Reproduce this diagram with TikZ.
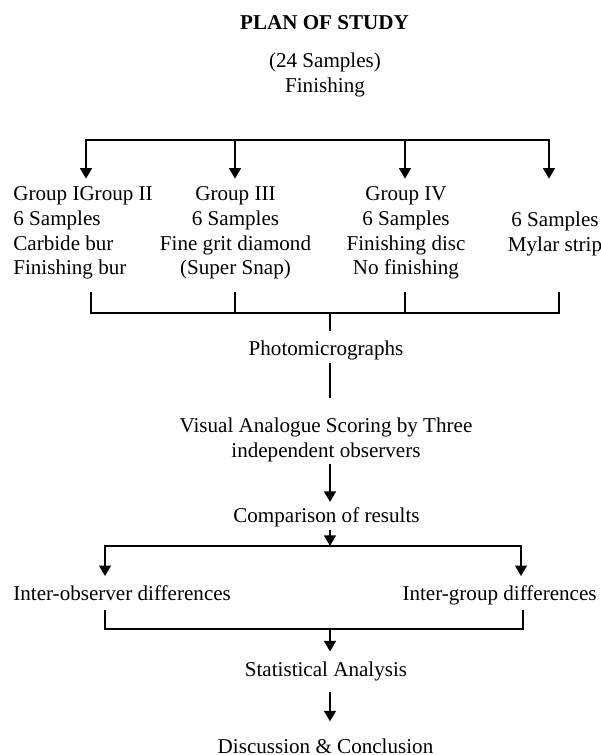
\documentclass[tikz,border=0pt]{standalone}
\usepackage{fontspec}
\setmainfont{Liberation Serif}
\usetikzlibrary{arrows.meta}

\begin{document}
\begin{tikzpicture}[txt/.style={inner sep=0pt,align=center,font=\fontsize{12}{14}\selectfont},
                    ln/.style={line width=0.9pt},
                    arr/.style={line width=1.6pt,-{Triangle[width=6.5pt,length=6pt]}}]
    \useasboundingbox (0,0) rectangle (12,-15.1);
    \node[txt,anchor=base,font=\fontsize{12}{14}\selectfont\bfseries] (title) at (6.49,-0.6) {PLAN OF STUDY};
    \node[txt,anchor=north] (sub) at (6.5,-1.05) {(24 Samples)\\Finishing};

    \coordinate (f1) at (1.72,-2.8);
    \coordinate (f2) at (4.7,-2.8);
    \coordinate (f3) at (8.1,-2.8);
    \coordinate (f4) at (10.98,-2.8);
    \draw[line width=1.6pt,line cap=rect] (f1)--(f4);

    \node[txt,align=left,anchor=north west] (g1) at (0.26,-3.73) {Group IGroup II\\6 Samples\\Carbide bur\\Finishing bur};
    \node[txt,anchor=north] (g2) at (4.71,-3.73) {Group III\\6 Samples\\Fine grit diamond\\(Super Snap)};
    \node[txt,anchor=north] (g3) at (8.12,-3.73) {Group IV\\6 Samples\\Finishing disc\\No finishing};
    \node[txt,anchor=north] (g4) at (11.1,-4.23) {6 Samples\\Mylar strip};
    \foreach \f in {f1,f2,f3,f4}
        \draw[arr,shorten >=4.4pt] (\f)--(\f |- g1.north);

    \coordinate (j1) at (1.82,-6.26);
    \coordinate (j2) at (4.7,-6.26);
    \coordinate (j3) at (8.1,-6.26);
    \coordinate (j4) at (11.18,-6.26);
    \coordinate (mid) at (6.6,-6.26);
    \draw[ln,shorten <=7pt,shorten >=7pt] (j1 |- g1.south)--(j1)--(j4)--(j4 |- g1.south);
    \draw[ln,shorten <=7pt] (j2 |- g2.south)--(j2);
    \draw[ln,shorten <=7pt] (j3 |- g3.south)--(j3);

    \node[txt,anchor=base] (photo) at (6.52,-7.1) {Photomicrographs};
    \draw[ln,shorten >=5.4pt] (mid)--(photo.north -| mid);

    \node[txt,anchor=north] (visual) at (6.52,-8.35) {Visual Analogue Scoring by Three\\independent observers};
    \draw[ln,shorten <=1.9pt,shorten >=11pt] (photo.south -| mid)--(visual.north -| mid);

    \node[txt,anchor=base] (comp) at (6.53,-10.45) {Comparison of results};
    \draw[arr,shorten <=1pt,shorten >=3pt] (visual.south -| mid)--(comp.north -| mid);

    \coordinate (k) at (6.6,-10.92);
    \coordinate (k1) at (2.1,-10.92);
    \coordinate (k2) at (10.42,-10.92);
    \draw[arr,shorten <=1.5pt] (comp.south -| mid)--(k);
    \draw[line width=1.6pt,line cap=rect] (k1)--(k2);

    \node[txt,anchor=base west] (obs) at (0.26,-12.01) {Inter-observer differences};
    \node[txt,anchor=base east] (grp) at (11.94,-12.01) {Inter-group differences};
    \draw[arr,shorten >=5.2pt] (k1)--(k1 |- obs.north);
    \draw[arr,shorten >=5.2pt] (k2)--(k2 |- grp.north);

    \coordinate (m1) at (2.1,-12.58);
    \coordinate (m2) at (10.46,-12.58);
    \coordinate (m) at (6.6,-12.58);
    \draw[ln,shorten <=5.3pt,shorten >=2.7pt] (m1 |- obs.south)--(m1)--(m2)--(m2 |- grp.south);

    \node[txt,anchor=base] (stat) at (6.52,-13.52) {Statistical Analysis};
    \draw[arr,shorten >=5.4pt] (m)--(stat.north -| m);

    \node[txt,anchor=base] (disc) at (6.51,-15.06) {Discussion \& Conclusion};
    \draw[arr,shorten <=6.5pt,shorten >=9.4pt] (stat.south -| mid)--(disc.north -| mid);
\end{tikzpicture}
\end{document}
